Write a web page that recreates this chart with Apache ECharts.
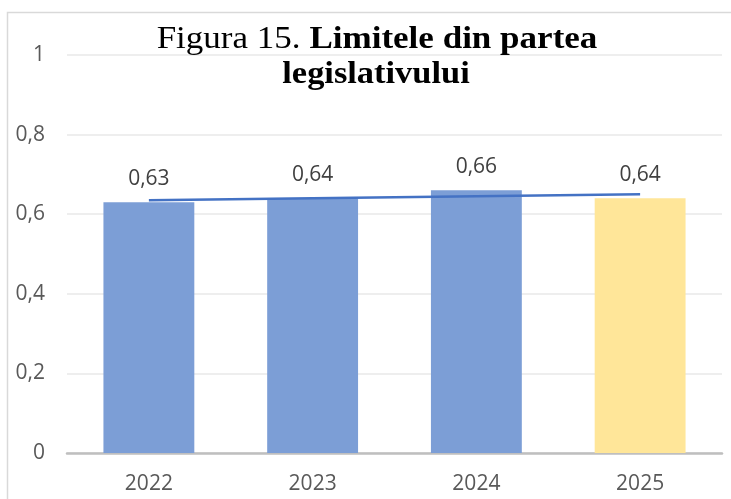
<!DOCTYPE html>
<html>
<head>
<meta charset="utf-8">
<script src="https://cdn.jsdelivr.net/npm/echarts@6/dist/echarts.min.js"></script>
<style>
  html, body { margin: 0; padding: 0; background: #fff; }
  #chart { width: 731px; height: 499px; }
</style>
</head>
<body>
<div id="chart"></div>
<script>
// date
var years = ['2022', '2023', '2024', '2025'];
var values = [0.63, 0.64, 0.66, 0.64];
var trend = [0.635, 0.64, 0.645, 0.65];
var barColors = ['#7c9ed6', '#7c9ed6', '#7c9ed6', '#ffe699'];
var yTicks = [0, 0.2, 0.4, 0.6, 0.8, 1];

function comma(v) {
  return String(v).replace('.', ',');
}

var serif = 'Liberation Serif';

var myChart = echarts.init(document.getElementById('chart'));

var option = {
  animation: false,
  graphic: [
    {
      type: 'rect',
      shape: { x: 7.5, y: 12.5, width: 740, height: 500 },
      style: { fill: 'none', stroke: '#d9d9d9', lineWidth: 1.5 },
      silent: true
    },
    // titlul, primul rand (usor latit ca in original)
    {
      type: 'text',
      x: 377,
      y: 40,
      scaleX: 1.13,
      z: 10,
      style: {
        text: '{n|Figura 15. }{b|Limitele din partea}',
        align: 'center',
        verticalAlign: 'middle',
        rich: {
          n: { fontFamily: serif, fontSize: 31, fontWeight: 'normal', fill: '#000' },
          b: { fontFamily: serif, fontSize: 31, fontWeight: 'bold', fill: '#000' }
        }
      }
    },
    {
      type: 'text',
      x: 376,
      y: 75,
      scaleX: 1.11,
      z: 10,
      style: {
        text: 'legislativului',
        align: 'center',
        verticalAlign: 'middle',
        font: 'bold 31px "Liberation Serif"',
        fill: '#000'
      }
    }
  ],
  grid: { left: 67, right: 9, top: 55, bottom: 46 },
  xAxis: {
    type: 'category',
    data: years,
    axisTick: { show: false },
    axisLine: { lineStyle: { color: '#bfbfbf', width: 2.5 } },
    axisLabel: { color: '#595959', fontSize: 21, fontFamily: 'Open Sans', margin: 21 }
  },
  yAxis: {
    type: 'value',
    min: yTicks[0],
    max: yTicks[yTicks.length - 1],
    interval: 0.2,
    axisLine: { show: false },
    axisTick: { show: false },
    splitLine: { lineStyle: { color: '#e8e8e8', width: 1.5 } },
    axisLabel: {
      color: '#595959', fontSize: 21, fontFamily: 'Open Sans', margin: 22,
      formatter: function (v) { return comma(Math.round(v * 10) / 10); }
    }
  },
  series: [
    {
      type: 'bar',
      barWidth: '55.5%',
      data: values.map(function (v, i) {
        return { value: v, itemStyle: { color: barColors[i] } };
      }),
      label: {
        show: true,
        position: 'top',
        distance: 13,
        color: '#404040',
        fontSize: 21,
        fontFamily: 'Open Sans',
        formatter: function (p) { return comma(p.value); }
      },
      z: 2
    },
    {
      type: 'line',
      data: trend,
      symbol: 'none',
      lineStyle: { color: '#4472c4', width: 2.5 },
      z: 3
    }
  ]
};

myChart.setOption(option);
</script>
</body>
</html>
